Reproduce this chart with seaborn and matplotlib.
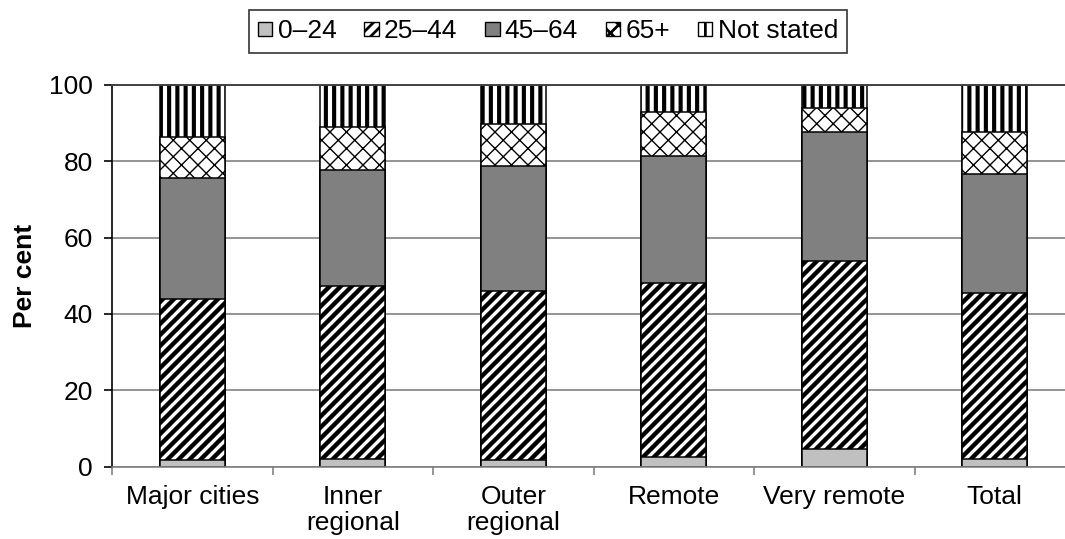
import matplotlib
matplotlib.use("Agg")
import matplotlib.pyplot as plt
import numpy as np
import pandas as pd
import seaborn as sns
from matplotlib.patches import Patch

# ---------------- data ----------------
categories = ["Major cities", "Inner\nregional", "Outer\nregional", "Remote", "Very remote", "Total"]
series_names = ["0–24", "25–44", "45–64", "65+", "Not stated"]
age_0_24 = [1.6, 2.0, 1.8, 2.5, 4.6, 2.0]
age_25_44 = [42.3, 45.4, 44.2, 45.6, 49.2, 43.4]
age_45_64 = [31.8, 30.3, 32.8, 33.2, 33.9, 31.2]
age_65_plus = [10.8, 11.4, 10.9, 11.7, 6.2, 11.1]
not_stated = [13.5, 10.9, 10.3, 7.0, 6.1, 12.3]
y_ticks = [0, 20, 40, 60, 80, 100]

series_values = [age_0_24, age_25_44, age_45_64, age_65_plus, not_stated]

# ---------------- styles ----------------
fills = ["#C0C0C0", "white", "#808080", "white", "white"]
hatches = [None, "//////", None, "xxxx", "||||"]
hatch_lws = [0.5, 1.6, 0.5, 0.5, 1.5]

sns.set_theme(style="white")
plt.rcParams["font.family"] = ["Liberation Sans", "DejaVu Sans"]
FS = 9.6

DPI = 198
fig = plt.figure(figsize=(1065 / DPI, 539 / DPI), dpi=DPI)
W, H = 1065, 539
ax_left, ax_right, ax_top, ax_bottom = 112, 1075, 85, 466.5
ax = fig.add_axes([ax_left / W, 1 - ax_bottom / H, (ax_right - ax_left) / W, (ax_bottom - ax_top) / H])

cum = np.cumsum(np.array(series_values), axis=0)
for i in reversed(range(len(series_names))):
    df = pd.DataFrame({"cat": categories, "val": cum[i]})
    n_before = len(ax.patches)
    with plt.rc_context({"hatch.linewidth": hatch_lws[i]}):
        sns.barplot(data=df, x="cat", y="val", order=categories, color=fills[i],
                    saturation=1, width=0.405, edgecolor="black", linewidth=0.55,
                    hatch=hatches[i], ax=ax, errorbar=None)
    for p in ax.patches[n_before:]:
        if hasattr(p, "set_hatch_linewidth"):
            p.set_hatch_linewidth(hatch_lws[i])

ax.set_xlim(-0.5, len(categories) - 0.5)
ax.set_ylim(0, 100)
ax.set_yticks(y_ticks)
ax.set_yticklabels([str(v) for v in y_ticks], fontsize=FS, color="black")
ax.set_xticks(range(len(categories)))
ax.set_xticklabels(categories, fontsize=FS, color="black", linespacing=1.1)
ax.set_xticks(np.arange(-0.5, len(categories) + 0.5, 1), minor=True)
ax.tick_params(axis="x", which="major", length=0, pad=6.8)
ax.tick_params(axis="x", which="minor", length=3, width=0.6, color="#808080", direction="out", bottom=True)
ax.tick_params(axis="y", which="major", length=3, width=0.6, color="black", direction="out", left=True, pad=4)

ax.set_axisbelow(True)
ax.yaxis.grid(True, color="#808080", linewidth=0.6)
ax.xaxis.grid(False)

ax.spines["right"].set_visible(False)
ax.spines["left"].set_color("black")
ax.spines["left"].set_linewidth(0.6)
ax.spines["top"].set_color("#404040")
ax.spines["top"].set_linewidth(0.7)
ax.spines["bottom"].set_color("#808080")
ax.spines["bottom"].set_linewidth(0.6)

ax.set_xlabel("")
ax.set_ylabel("Per cent", fontsize=FS, fontweight="bold", color="black")
ax.yaxis.set_label_coords((37 - ax_left) / (ax_right - ax_left), 0.5)

handles = []
for i, name in enumerate(series_names):
    h = Patch(facecolor=fills[i], edgecolor="black", linewidth=0.5, hatch=hatches[i], label=name)
    handles.append(h)
leg = fig.legend(handles=handles, loc="center", bbox_to_anchor=(548 / W, 1 - 31.5 / H),
                 ncol=5, fontsize=FS, frameon=True, fancybox=False, shadow=False,
                 handlelength=0.55, handleheight=0.45, handletextpad=0.2,
                 columnspacing=1.05, borderpad=0.35, borderaxespad=0)
leg.get_frame().set_edgecolor("black")
leg.get_frame().set_linewidth(0.6)
for t in leg.get_texts():
    t.set_color("black")

fig.savefig("out.png", dpi=DPI)
